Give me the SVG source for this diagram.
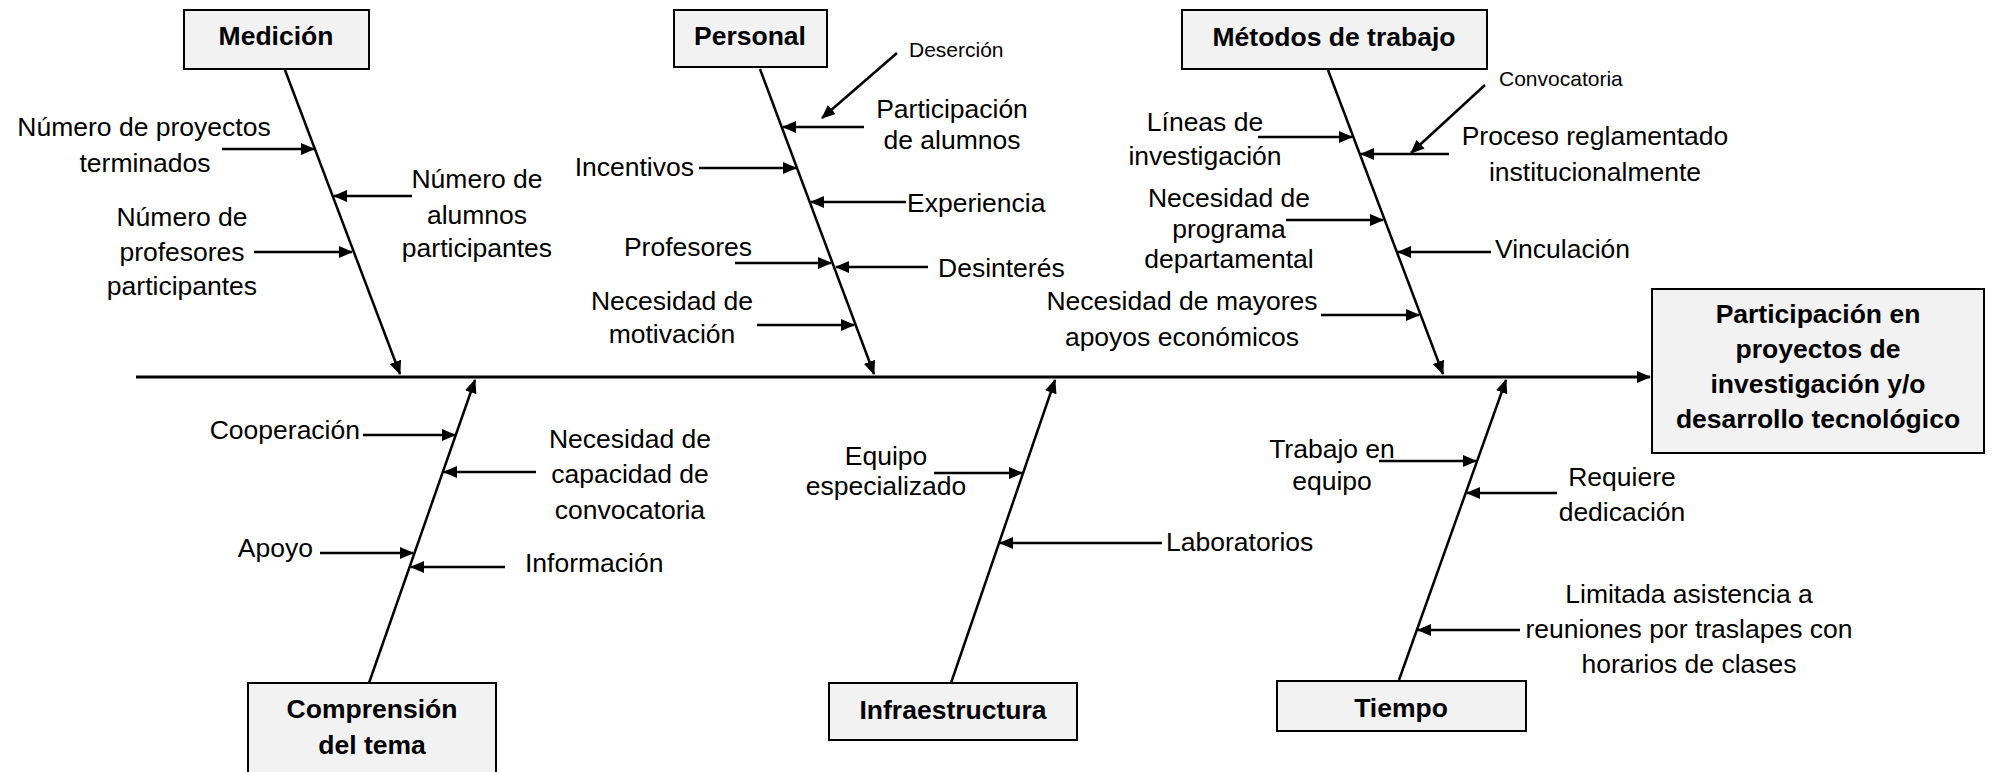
<svg xmlns="http://www.w3.org/2000/svg" width="1993" height="772" viewBox="0 0 1993 772">
<style>
.box{fill:#f2f2f2;stroke:#000;stroke-width:2}
.t{font-family:"Liberation Sans",Arial,sans-serif;font-size:26.5px;fill:#000}
.b{font-weight:bold;text-anchor:middle}
.m{text-anchor:middle}
.e{text-anchor:end}
.s{font-size:21px}
.ln{stroke:#000;stroke-width:2.5;fill:none}
.ar{stroke:#000;stroke-width:2.5;fill:none;marker-end:url(#ah)}
</style>
<defs>
<marker id="ah" viewBox="0 0 14 12" refX="13" refY="6" markerWidth="14" markerHeight="12" markerUnits="userSpaceOnUse" orient="auto"><path d="M0,0 L14,6 L0,12 z" fill="#000"/></marker>
</defs>
<rect width="1993" height="772" fill="#fff"/>

<g id="connectors">
<line class="ar" x1="136" y1="377" x2="1650" y2="377" style="stroke-width:3"/>
<line class="ar" x1="285" y1="70" x2="400" y2="374"/>
<line class="ar" x1="760" y1="69" x2="874" y2="374"/>
<line class="ar" x1="1328" y1="70" x2="1443" y2="374"/>
<line class="ar" x1="369" y1="683" x2="475" y2="380"/>
<line class="ar" x1="951" y1="683" x2="1055" y2="380"/>
<line class="ar" x1="1399" y1="680" x2="1506" y2="380"/>
<!-- Medicion -->
<line class="ar" x1="222" y1="149" x2="314" y2="149"/>
<line class="ar" x1="412" y1="196" x2="334" y2="196"/>
<line class="ar" x1="254" y1="252" x2="352" y2="252"/>
<!-- Personal -->
<line class="ar" x1="897" y1="53" x2="822" y2="118"/>
<line class="ar" x1="864" y1="127" x2="783" y2="127"/>
<line class="ar" x1="699" y1="168" x2="796" y2="168"/>
<line class="ar" x1="906" y1="202" x2="811" y2="202"/>
<line class="ar" x1="735" y1="263" x2="831" y2="263"/>
<line class="ar" x1="928" y1="267" x2="836" y2="267"/>
<line class="ar" x1="757" y1="325" x2="854" y2="325"/>
<!-- Metodos -->
<line class="ar" x1="1485" y1="85" x2="1411" y2="153"/>
<line class="ar" x1="1258" y1="137" x2="1352" y2="137"/>
<line class="ar" x1="1449" y1="154" x2="1361" y2="154"/>
<line class="ar" x1="1286" y1="220" x2="1383" y2="220"/>
<line class="ar" x1="1491" y1="252" x2="1398" y2="252"/>
<line class="ar" x1="1321" y1="315" x2="1419" y2="315"/>
<!-- Comprension -->
<line class="ar" x1="363" y1="435" x2="455" y2="435"/>
<line class="ar" x1="536" y1="472" x2="444" y2="472"/>
<line class="ar" x1="320" y1="553" x2="413" y2="553"/>
<line class="ar" x1="505" y1="567" x2="411" y2="567"/>
<!-- Infraestructura -->
<line class="ar" x1="934" y1="473" x2="1022" y2="473"/>
<line class="ar" x1="1162" y1="543" x2="1000" y2="543"/>
<!-- Tiempo -->
<line class="ar" x1="1379" y1="461" x2="1476" y2="461"/>
<line class="ar" x1="1557" y1="493" x2="1467" y2="493"/>
<line class="ar" x1="1520" y1="630" x2="1418" y2="630"/>
</g>

<g id="effect">
<rect class="box" x="1652" y="289" width="332" height="164"/>
<text class="t b" x="1818" y="323">Participación en</text>
<text class="t b" x="1818" y="358">proyectos de</text>
<text class="t b" x="1818" y="393">investigación y/o</text>
<text class="t b" x="1818" y="428">desarrollo tecnológico</text>
</g>

<g id="medicion">
<rect class="box" x="184" y="10" width="185" height="59"/>
<text class="t b" x="276" y="45">Medición</text>
</g>
<g id="personal">
<rect class="box" x="674" y="10" width="153" height="57"/>
<text class="t b" x="750" y="45">Personal</text>
</g>
<g id="metodos">
<rect class="box" x="1182" y="10" width="305" height="59"/>
<text class="t b" x="1334" y="46">Métodos de trabajo</text>
</g>
<g id="comprension">
<rect class="box" x="248" y="683" width="248" height="90"/>
<text class="t b" x="372" y="718">Comprensión</text>
<text class="t b" x="372" y="754">del tema</text>
</g>
<g id="infraestructura">
<rect class="box" x="829" y="683" width="248" height="57"/>
<text class="t b" x="953" y="719">Infraestructura</text>
</g>
<g id="tiempo">
<rect class="box" x="1277" y="681" width="249" height="50"/>
<text class="t b" x="1401" y="717">Tiempo</text>
</g>

<g id="causes-medicion">
<text class="t m" x="144" y="136">Número de proyectos</text>
<text class="t m" x="145" y="172">terminados</text>
<text class="t m" x="477" y="188">Número de</text>
<text class="t m" x="477" y="224">alumnos</text>
<text class="t m" x="477" y="257">participantes</text>
<text class="t m" x="182" y="226">Número de</text>
<text class="t m" x="182" y="261">profesores</text>
<text class="t m" x="182" y="295">participantes</text>
</g>
<g id="causes-personal">
<text class="t s" x="909" y="57">Deserción</text>
<text class="t m" x="952" y="118">Participación</text>
<text class="t m" x="952" y="149">de alumnos</text>
<text class="t e" x="694" y="176">Incentivos</text>
<text class="t" x="907" y="212">Experiencia</text>
<text class="t m" x="688" y="256">Profesores</text>
<text class="t" x="938" y="277">Desinterés</text>
<text class="t m" x="672" y="310">Necesidad de</text>
<text class="t m" x="672" y="343">motivación</text>
</g>
<g id="causes-metodos">
<text class="t s" x="1499" y="86">Convocatoria</text>
<text class="t m" x="1205" y="131">Líneas de</text>
<text class="t m" x="1205" y="165">investigación</text>
<text class="t m" x="1595" y="145">Proceso reglamentado</text>
<text class="t m" x="1595" y="181">institucionalmente</text>
<text class="t m" x="1229" y="207">Necesidad de</text>
<text class="t m" x="1229" y="238">programa</text>
<text class="t m" x="1229" y="268">departamental</text>
<text class="t" x="1495" y="258">Vinculación</text>
<text class="t m" x="1182" y="310">Necesidad de mayores</text>
<text class="t m" x="1182" y="346">apoyos económicos</text>
</g>
<g id="causes-comprension">
<text class="t e" x="360" y="439">Cooperación</text>
<text class="t m" x="630" y="448">Necesidad de</text>
<text class="t m" x="630" y="483">capacidad de</text>
<text class="t m" x="630" y="519">convocatoria</text>
<text class="t e" x="313" y="557">Apoyo</text>
<text class="t" x="525" y="572">Información</text>
</g>
<g id="causes-infraestructura">
<text class="t m" x="886" y="465">Equipo</text>
<text class="t m" x="886" y="495">especializado</text>
<text class="t" x="1166" y="551">Laboratorios</text>
</g>
<g id="causes-tiempo">
<text class="t m" x="1332" y="458">Trabajo en</text>
<text class="t m" x="1332" y="490">equipo</text>
<text class="t m" x="1622" y="486">Requiere</text>
<text class="t m" x="1622" y="521">dedicación</text>
<text class="t m" x="1689" y="603">Limitada asistencia a</text>
<text class="t m" x="1689" y="638">reuniones por traslapes con</text>
<text class="t m" x="1689" y="673">horarios de clases</text>
</g>
</svg>
